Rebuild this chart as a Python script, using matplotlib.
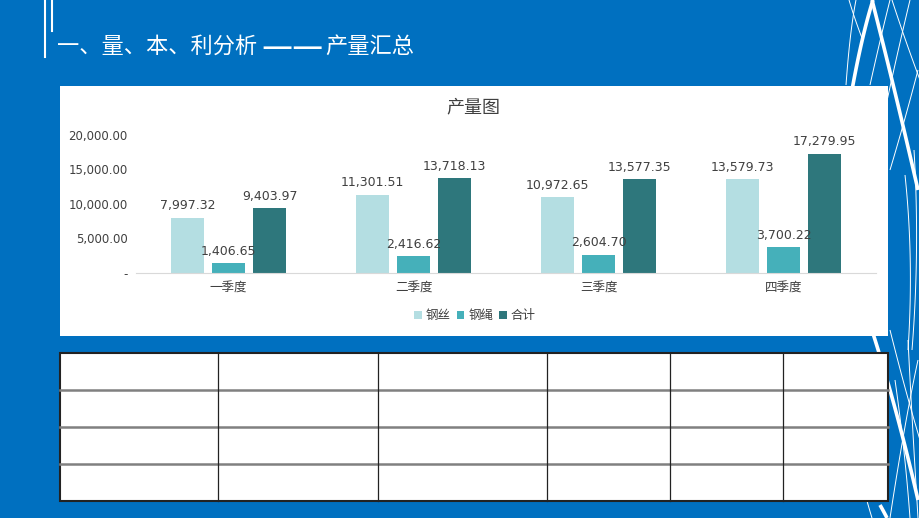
import numpy as np
import matplotlib
matplotlib.use("Agg")
import matplotlib.pyplot as plt
from matplotlib.patches import Rectangle

plt.rcParams['font.family'] = ['Noto Sans CJK SC', 'DejaVu Sans']

# data
quarters = ['一季度', '二季度', '三季度', '四季度']
series_names = ['钢丝', '钢绳', '合计']
steel_wire = [7997.32, 11301.51, 10972.65, 13579.73]
steel_rope = [1406.65, 2416.62, 2604.70, 3700.22]
total = [9403.97, 13718.13, 13577.35, 17279.95]
yticks = [0, 5000, 10000, 15000, 20000]
ytick_labels = ['-', '5,000.00', '10,000.00', '15,000.00', '20,000.00']

colors = ['#B4DEE2', '#45B0BA', '#2E777C']
blue = '#0070C0'
W, H = 920, 518

fig = plt.figure(figsize=(W / 100, H / 100), dpi=100)
fig.patch.set_facecolor(blue)

# background layer in pixel coords
bg = fig.add_axes([0, 0, 1, 1])
bg.set_xlim(0, W)
bg.set_ylim(H, 0)
bg.axis('off')

# decorative white strokes on the right edge
def stroke(p0, p1, p2, lw):
    t = np.linspace(0, 1, 40)
    x = (1 - t) ** 2 * p0[0] + 2 * (1 - t) * t * p1[0] + t ** 2 * p2[0]
    y = (1 - t) ** 2 * p0[1] + 2 * (1 - t) * t * p1[1] + t ** 2 * p2[1]
    bg.plot(x, y, color='white', lw=lw, solid_capstyle='butt', zorder=1)

stroke((872, 0), (895, 90), (918, 190), 2.6)
stroke((873, 0), (862, 35), (852, 90), 2.6)
stroke((868, 318), (895, 400), (918, 500), 2.6)
stroke((880, 505), (884, 512), (887, 518), 2.6)
stroke((849, 0), (855, 20), (862, 38), 0.7)
stroke((856, 0), (850, 30), (846, 85), 0.7)
stroke((890, 0), (880, 40), (870, 85), 0.7)
stroke((892, 0), (905, 40), (920, 80), 0.7)
stroke((910, 0), (898, 50), (885, 110), 0.7)
stroke((918, 70), (905, 120), (890, 170), 0.7)
stroke((905, 175), (914, 260), (908, 350), 0.7)
stroke((914, 150), (920, 250), (912, 350), 0.7)
stroke((890, 330), (905, 390), (920, 440), 0.7)
stroke((918, 360), (905, 420), (890, 518), 0.7)
stroke((895, 380), (905, 450), (910, 518), 0.7)
stroke((908, 340), (912, 420), (918, 518), 0.7)
stroke((864, 490), (868, 505), (872, 518), 0.7)

# title marks
bg.plot([45, 45], [0, 57], color='white', lw=1.5)
bg.plot([52, 52], [0, 31], color='white', lw=1.5)
bg.text(57, 46, '一、量、本、利分析', color='white', fontsize=16, va='center', ha='left')
bg.text(261, 58, '——', color='white', fontsize=25, va='baseline', ha='left')
bg.text(325, 46, '产量汇总', color='white', fontsize=16, va='center', ha='left')

# chart panel
bg.add_patch(Rectangle((60, 86), 828, 250, facecolor='white', edgecolor='none', zorder=2))

# table
tx = [60, 218, 378, 547, 670, 783, 888]
ty = [353, 390, 427, 464, 501]
bg.add_patch(Rectangle((tx[0], ty[0]), tx[-1] - tx[0], ty[-1] - ty[0],
                       facecolor='white', edgecolor='#222222', lw=1.5, zorder=2))
for y in ty[1:-1]:
    bg.plot([tx[0], tx[-1]], [y, y], color='#808080', lw=1.8, zorder=3)
for x in tx[1:-1]:
    bg.plot([x, x], [ty[0], ty[-1]], color='#222222', lw=0.9, zorder=3)

# chart title
bg.text(473, 107, '产量图', fontsize=13, color='#404040', ha='center', va='center', zorder=4)

# bar chart axes
ax = fig.add_axes([136 / W, 1 - 273 / H, 740 / W, (273 - 135) / H])
ax.set_facecolor('none')
x = np.arange(len(quarters))
width = 0.178
step = 0.222
for i, (vals, name) in enumerate(zip([steel_wire, steel_rope, total], series_names)):
    bars = ax.bar(x + (i - 1) * step, vals, width, color=colors[i], label=name)
    for b, v in zip(bars, vals):
        ax.annotate(f'{v:,.2f}', (b.get_x() + b.get_width() / 2, v),
                    xytext=(0, 4), textcoords='offset points', ha='center', va='bottom',
                    fontsize=9, color='#404040', family='DejaVu Sans')

ax.set_xlim(-0.5, len(quarters) - 0.5)
ax.set_ylim(0, 20000)
ax.set_yticks(yticks)
ax.set_yticklabels(ytick_labels, fontsize=8.5, color='#404040', family='DejaVu Sans')
ax.set_xticks(x)
ax.set_xticklabels(quarters, fontsize=9, color='#404040')
ax.tick_params(length=0)
ax.tick_params(axis='y', pad=6)
ax.tick_params(axis='x', pad=6)
for s in ['top', 'right', 'left']:
    ax.spines[s].set_visible(False)
ax.spines['bottom'].set_color('#D9D9D9')

fig.legend(loc='center', bbox_to_anchor=(475 / W, 1 - 316 / H), ncol=3, frameon=False,
           fontsize=9, handlelength=0.6, handleheight=0.6, handletextpad=0.3,
           columnspacing=0.5, labelcolor='#404040')

fig.savefig('out.png', dpi=100, facecolor=blue)
